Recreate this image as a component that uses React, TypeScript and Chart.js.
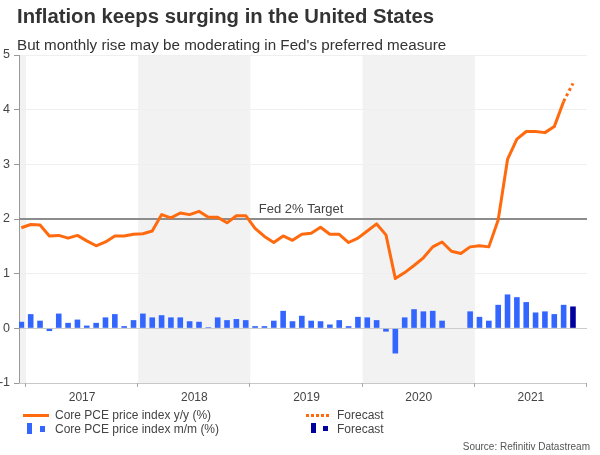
import React, { useEffect, useRef } from 'react';
import { Chart, registerables } from 'chart.js';

Chart.register(...registerables);

const FONT = '"Liberation Sans", Arial, sans-serif';

// Year tick labels; the data starts in Dec 2016 and ends (forecast) in Nov 2021
const yearLabels = ['2017', '2018', '2019', '2020', '2021'];
const shadedYears = [2016, 2018, 2020];
const monthNames = ['Jan', 'Feb', 'Mar', 'Apr', 'May', 'Jun', 'Jul', 'Aug', 'Sep', 'Oct', 'Nov', 'Dec'];
const months = ['Dec 2016', ...yearLabels.flatMap((y) => monthNames.map((m) => `${m} ${y}`))].slice(0, 60);

// Core PCE price index y/y (%)
const yoyActual = [
  1.84, 1.9, 1.89, 1.69, 1.7, 1.65, 1.7, 1.6, 1.51, 1.58, 1.69, 1.69, 1.72,
  1.73, 1.78, 2.08, 2.02, 2.11, 2.08, 2.14, 2.03, 2.03, 1.93, 2.06, 2.06,
  1.83, 1.68, 1.57, 1.69, 1.61, 1.72, 1.74, 1.85, 1.72, 1.72, 1.57, 1.65,
  1.78, 1.91, 1.71, 0.91, 1.02, 1.15, 1.29, 1.49, 1.58, 1.41, 1.37, 1.49,
  1.51, 1.49, 1.98, 3.09, 3.46, 3.6, 3.6, 3.58, 3.69, 4.15, null,
];
const yoyForecast = [
  null, null, null, null, null, null, null, null, null, null, null, null, null,
  null, null, null, null, null, null, null, null, null, null, null, null,
  null, null, null, null, null, null, null, null, null, null, null, null,
  null, null, null, null, null, null, null, null, null, null, null, null,
  null, null, null, null, null, null, null, null, null, 4.15, 4.48,
];
// Core PCE price index m/m (%)
const momActual = [
  0.12, 0.26, 0.14, -0.05, 0.27, 0.1, 0.16, 0.05, 0.1, 0.2, 0.26, 0.04, 0.15,
  0.27, 0.2, 0.24, 0.2, 0.2, 0.13, 0.12, 0.02, 0.2, 0.15, 0.17, 0.15,
  0.04, 0.04, 0.14, 0.32, 0.13, 0.23, 0.14, 0.13, 0.07, 0.15, 0.04, 0.21,
  0.2, 0.15, -0.06, -0.46, 0.2, 0.35, 0.31, 0.32, 0.14, 0.0, 0.0, 0.31,
  0.21, 0.14, 0.43, 0.62, 0.57, 0.48, 0.29, 0.31, 0.26, 0.43, null,
];
const momForecast = [
  null, null, null, null, null, null, null, null, null, null, null, null, null,
  null, null, null, null, null, null, null, null, null, null, null, null,
  null, null, null, null, null, null, null, null, null, null, null, null,
  null, null, null, null, null, null, null, null, null, null, null, null,
  null, null, null, null, null, null, null, null, null, null, 0.4,
];
const fedTarget = 2;
const fedLabel = 'Fed 2% Target';

const ORANGE = '#ff6a0e';
const BLUE = '#3366ff';
const DARKBLUE = '#00009e';

const toPoints = (arr: (number | null)[]) => arr.map((v, i) => ({ x: i, y: v }));

const decorPlugin = {
  id: 'decor',
  beforeDraw(chart: any) {
    const { ctx, chartArea: a, scales } = chart;
    const x = scales.x;
    ctx.save();
    ctx.fillStyle = '#ffffff';
    ctx.fillRect(0, 0, chart.width, chart.height);
    ctx.fillStyle = '#f2f2f2';
    for (const yr of shadedYears) {
      const s = (yr - 2017) * 12 + 0.5;
      const e = s + 12;
      const x0 = Math.max(a.left, x.getPixelForValue(s));
      const x1 = Math.min(a.right, x.getPixelForValue(e));
      if (x1 > x0) ctx.fillRect(x0, a.top, x1 - x0, a.bottom - a.top);
    }
    ctx.restore();
  },
  beforeDatasetsDraw(chart: any) {
    const { ctx, chartArea: a, scales } = chart;
    const yp = scales.y.getPixelForValue(fedTarget);
    ctx.save();
    ctx.strokeStyle = '#8c8c8c';
    ctx.lineWidth = 2;
    ctx.beginPath();
    ctx.moveTo(a.left, yp);
    ctx.lineTo(a.right, yp);
    ctx.stroke();
    ctx.fillStyle = '#444';
    ctx.font = `13px ${FONT}`;
    ctx.textAlign = 'left';
    ctx.textBaseline = 'middle';
    ctx.fillText(fedLabel, scales.x.getPixelForValue(25.4), yp - 10);
    ctx.restore();
  },
  afterDraw(chart: any) {
    const { ctx, chartArea: a, scales } = chart;
    const x = scales.x;
    ctx.save();
    ctx.strokeStyle = '#c8c8c8';
    ctx.lineWidth = 1;
    ctx.beginPath();
    ctx.moveTo(a.left, a.bottom + 0.5);
    ctx.lineTo(a.right, a.bottom + 0.5);
    ctx.stroke();
    ctx.strokeStyle = '#aaaaaa';
    for (let k = 0; k <= yearLabels.length; k++) {
      const v = k * 12 + 0.5;
      const px = Math.round(Math.min(x.getPixelForValue(v), a.right)) - 0.5;
      ctx.beginPath();
      ctx.moveTo(px, a.bottom);
      ctx.lineTo(px, a.bottom + 4);
      ctx.stroke();
    }
    ctx.fillStyle = '#444';
    ctx.font = `12px ${FONT}`;
    ctx.textAlign = 'center';
    ctx.textBaseline = 'middle';
    yearLabels.forEach((lab, k) => {
      const c = x.getPixelForValue(k * 12 + 6.5);
      ctx.fillText(lab, c, a.bottom + 14.5);
    });
    ctx.restore();
  },
};

export default function App() {
  const ref = useRef<HTMLCanvasElement>(null);

  useEffect(() => {
    const canvas = ref.current!;
    const chart = new Chart(canvas, {
      type: 'bar',
      data: {
        labels: months,
        datasets: [
          {
            type: 'line',
            label: 'Core PCE price index y/y (%)',
            data: toPoints(yoyActual) as any,
            borderColor: ORANGE,
            borderWidth: 3,
            pointRadius: 0,
            tension: 0,
            borderJoinStyle: 'round',
          },
          {
            type: 'line',
            label: 'Forecast',
            data: toPoints(yoyForecast) as any,
            borderColor: ORANGE,
            borderWidth: 3,
            borderDash: [3, 3],
            pointRadius: 0,
            tension: 0,
          },
          {
            type: 'bar',
            label: 'Core PCE price index m/m (%)',
            data: toPoints(momActual) as any,
            backgroundColor: BLUE,
            borderWidth: 0,
            grouped: false,
            barPercentage: 0.6,
            categoryPercentage: 1,
          },
          {
            type: 'bar',
            label: 'Forecast',
            data: toPoints(momForecast) as any,
            backgroundColor: DARKBLUE,
            borderWidth: 0,
            grouped: false,
            barPercentage: 0.6,
            categoryPercentage: 1,
          },
        ],
      },
      options: {
        responsive: false,
        animation: false,
        devicePixelRatio: 1,
        layout: { padding: { left: 0, top: 55, right: 13, bottom: 72 } },
        plugins: { legend: { display: false }, tooltip: { enabled: false } },
        scales: {
          x: { type: 'linear', min: -0.25, max: 60.5, display: false, offset: false },
          y: {
            min: -1,
            max: 5,
            ticks: { stepSize: 1, color: '#444', font: { family: FONT, size: 12.5 }, padding: 4 },
            grid: {
              color: (c: any) => (c.tick && c.tick.value === 0 ? '#cccccc' : '#efefef'),
              tickColor: '#999999',
              tickLength: 5,
            },
            border: { display: true, color: '#999999' },
            afterFit: (s: any) => {
              s.width = 19;
            },
          },
        },
      },
      plugins: [decorPlugin],
    });
    return () => chart.destroy();
  }, []);

  const abs = (o: React.CSSProperties): React.CSSProperties => ({ position: 'absolute', whiteSpace: 'nowrap', lineHeight: 1, ...o });

  return (
    <div style={{ position: 'absolute', left: 0, top: 0, width: 600, height: 455, background: '#fff', fontFamily: FONT, overflow: 'hidden' }}>
      <canvas ref={ref} width={600} height={455} style={{ position: 'absolute', left: 0, top: 0, width: 600, height: 455 }} />
      <div style={abs({ left: 17, top: 6, fontSize: 20.3, fontWeight: 'bold', color: '#333' })}>Inflation keeps surging in the United States</div>
      <div style={abs({ left: 17, top: 36.5, fontSize: 15.2, color: '#333' })}>But monthly rise may be moderating in Fed's preferred measure</div>

      <div style={abs({ left: 23, top: 413.5, width: 26, height: 3, background: ORANGE })} />
      <div style={abs({ left: 55, top: 409, fontSize: 12, color: '#444' })}>Core PCE price index y/y (%)</div>
      <div style={abs({ left: 27, top: 423, width: 5, height: 11, background: BLUE })} />
      <div style={abs({ left: 40, top: 426, width: 5, height: 6, background: BLUE })} />
      <div style={abs({ left: 55, top: 423, fontSize: 12, color: '#444' })}>Core PCE price index m/m (%)</div>

      <div style={abs({ left: 306, top: 413.5, width: 25, height: 3, background: `repeating-linear-gradient(to right, ${ORANGE} 0 3px, transparent 3px 5px)` })} />
      <div style={abs({ left: 337, top: 409, fontSize: 12, color: '#444' })}>Forecast</div>
      <div style={abs({ left: 311, top: 423, width: 5, height: 10, background: DARKBLUE })} />
      <div style={abs({ left: 323, top: 426, width: 5, height: 5, background: DARKBLUE })} />
      <div style={abs({ left: 337, top: 423, fontSize: 12, color: '#444' })}>Forecast</div>

      <div style={abs({ right: 10, top: 442, fontSize: 10, color: '#555' })}>Source: Refinitiv Datastream</div>
    </div>
  );
}
